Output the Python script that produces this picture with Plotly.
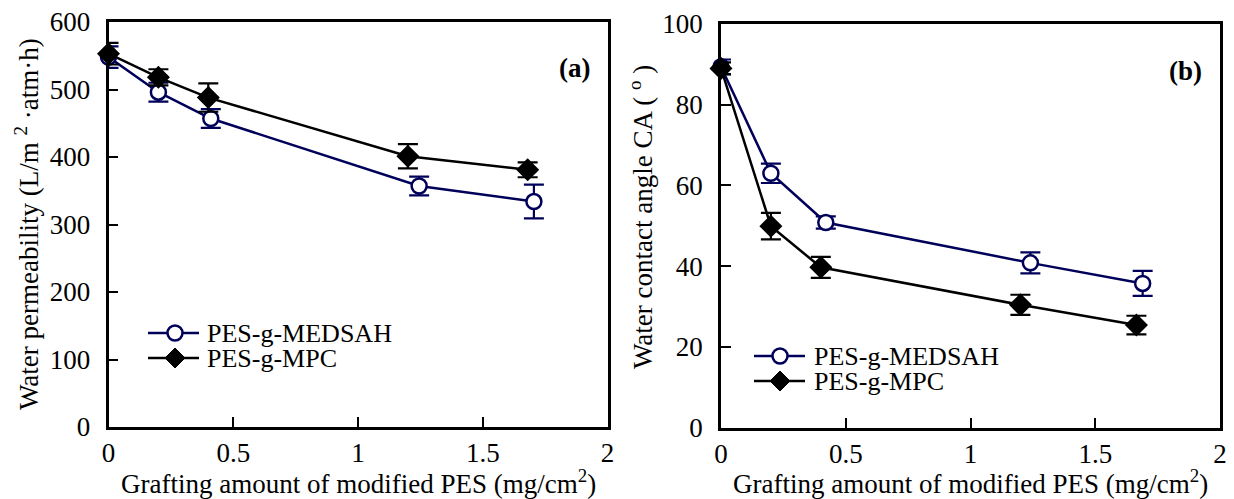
import plotly.graph_objects as go

# ---------------- data ----------------
x_ticks = [0, 0.5, 1, 1.5, 2]
x_tick_labels = ["0", "0.5", "1", "1.5", "2"]

# panel (a): water permeability
a_medsah_x = [0, 0.2, 0.41, 1.245, 1.705]
a_medsah_y = [548, 496, 457, 357, 334]
a_medsah_err = [16, 14, 14, 14, 25]
a_mpc_x = [0, 0.2, 0.40, 1.20, 1.68]
a_mpc_y = [553, 518, 488, 401, 381]
a_mpc_err = [16, 12, 21, 18, 11]
a_y_ticks = [0, 100, 200, 300, 400, 500, 600]

# panel (b): water contact angle
b_medsah_x = [0, 0.2, 0.42, 1.24, 1.69]
b_medsah_y = [89.4, 63.0, 50.8, 40.8, 35.7]
b_medsah_err = [1.8, 2.4, 1.5, 2.6, 3.1]
b_mpc_x = [0, 0.2, 0.40, 1.20, 1.665]
b_mpc_y = [89.0, 49.9, 39.7, 30.4, 25.4]
b_mpc_err = [1.5, 3.3, 2.6, 2.5, 2.3]
b_y_ticks = [0, 20, 40, 60, 80, 100]

series_names = ["PES-g-MEDSAH", "PES-g-MPC"]

# ---------------- style ----------------
W, H = 1234, 499
FONT = '"Liberation Serif", "Times New Roman", Times, "DejaVu Serif", serif'
NAVY = "#00005a"
BLACK = "#000000"
FS = 27


def px(x):
    return x / W


def py(y):
    return 1 - y / H


fig = go.Figure()


def add_series(x, y, err, xa, ya, color, symbol, fill, size, name):
    fig.add_trace(go.Scatter(
        x=x, y=y, mode="lines+markers", name=name, showlegend=False,
        xaxis=xa, yaxis=ya, cliponaxis=False,
        line=dict(color=color, width=2.5),
        marker=dict(symbol=symbol, size=size, color=fill,
                    line=dict(color=color, width=2.5)),
        error_y=dict(type="data", array=err, visible=True, color=color,
                     thickness=2.2, width=10),
    ))


add_series(a_medsah_x, a_medsah_y, a_medsah_err, "x", "y", NAVY, "circle", "white", 15, series_names[0])
add_series(a_mpc_x, a_mpc_y, a_mpc_err, "x", "y", BLACK, "diamond", BLACK, 15, series_names[1])
add_series(b_medsah_x, b_medsah_y, b_medsah_err, "x2", "y2", NAVY, "circle", "white", 15, series_names[0])
add_series(b_mpc_x, b_mpc_y, b_mpc_err, "x2", "y2", BLACK, "diamond", BLACK, 15, series_names[1])

axis_common = dict(
    showline=True, linecolor=BLACK, linewidth=2.5, mirror=True,
    ticks="inside", ticklen=10, tickwidth=2, tickcolor=BLACK,
    showgrid=False, zeroline=False, automargin=False,
    tickfont=dict(family=FONT, size=FS, color=BLACK),
)

fig.update_layout(
    width=W, height=H,
    margin=dict(l=0, r=0, t=0, b=0),
    paper_bgcolor="white", plot_bgcolor="white",
    showlegend=False,
    xaxis=dict(domain=[px(108.5), px(607.5)], range=[0, 2],
               tickvals=x_ticks, ticktext=x_tick_labels, anchor="y",
               ticklabelstandoff=0, **axis_common),
    yaxis=dict(domain=[py(427), py(22)], range=[0, 600],
               tickvals=a_y_ticks, anchor="x", ticklabelstandoff=10,
               **axis_common),
    xaxis2=dict(domain=[px(721), px(1220)], range=[0, 2],
                tickvals=x_ticks, ticktext=x_tick_labels, anchor="y2",
                ticklabelstandoff=0, **axis_common),
    yaxis2=dict(domain=[py(427.5), py(24)], range=[0, 100],
                tickvals=b_y_ticks, anchor="x2", ticklabelstandoff=10,
                **axis_common),
)

ann = []
font = dict(family=FONT, size=FS, color=BLACK)
# axis titles
xtitle = "Grafting amount of modified PES (mg/cm<sup>2</sup>)"
ann.append(dict(text=xtitle, x=px(358), y=py(482), xref="paper", yref="paper",
                xanchor="center", yanchor="middle", showarrow=False, font=font))
ann.append(dict(text=xtitle, x=px(970.5), y=py(482), xref="paper", yref="paper",
                xanchor="center", yanchor="middle", showarrow=False, font=font))
ann.append(dict(text="Water permeability (L/m <sup>2</sup> ·atm·h)", x=px(27), y=py(224),
                xref="paper", yref="paper", xanchor="center", yanchor="middle",
                textangle=-90, showarrow=False, font=font))
ann.append(dict(text="Water contact angle CA ( <sup>o</sup> )", x=px(641), y=py(217),
                xref="paper", yref="paper", xanchor="center", yanchor="middle",
                textangle=-90, showarrow=False, font=font))
# panel labels
bold = dict(family=FONT, size=FS, color=BLACK)
ann.append(dict(text="<b>(a)</b>", x=px(574), y=py(68), xref="paper", yref="paper",
                xanchor="center", yanchor="middle", showarrow=False, font=bold))
ann.append(dict(text="<b>(b)</b>", x=px(1185), y=py(71), xref="paper", yref="paper",
                xanchor="center", yanchor="middle", showarrow=False, font=bold))

# manual legends (key line + marker + text) for each panel
shapes = []
legend_specs = [
    # (line x0, line x1, marker x, text x, row1 y, row2 y)
    (148, 199, 175, 205, 333, 358),
    (754, 805, 780, 812, 356, 381),
]
lfont = dict(family=FONT, size=26, color=BLACK)
for lx0, lx1, mx, tx, r1, r2 in legend_specs:
    for row, name, color in ((r1, series_names[0], NAVY), (r2, series_names[1], BLACK)):
        shapes.append(dict(type="line", xref="paper", yref="paper",
                           x0=px(lx0), x1=px(lx1), y0=py(row), y1=py(row),
                           line=dict(color=color, width=2.5)))
        if name == series_names[0]:
            shapes.append(dict(type="circle", xref="paper", yref="paper",
                               xsizemode="pixel", ysizemode="pixel",
                               xanchor=px(mx), yanchor=py(row),
                               x0=-7.5, x1=7.5, y0=-7.5, y1=7.5,
                               fillcolor="white", line=dict(color=color, width=2.5)))
        else:
            shapes.append(dict(type="path", xref="paper", yref="paper",
                               xsizemode="pixel", ysizemode="pixel",
                               xanchor=px(mx), yanchor=py(row),
                               path="M0,10 L10,0 L0,-10 L-10,0 Z",
                               fillcolor=BLACK, line=dict(color=BLACK, width=1)))
        ann.append(dict(text=name, x=px(tx), y=py(row), xref="paper", yref="paper",
                        xanchor="left", yanchor="middle", showarrow=False, font=lfont))

fig.update_layout(annotations=ann, shapes=shapes)

fig.write_html("out.html")
